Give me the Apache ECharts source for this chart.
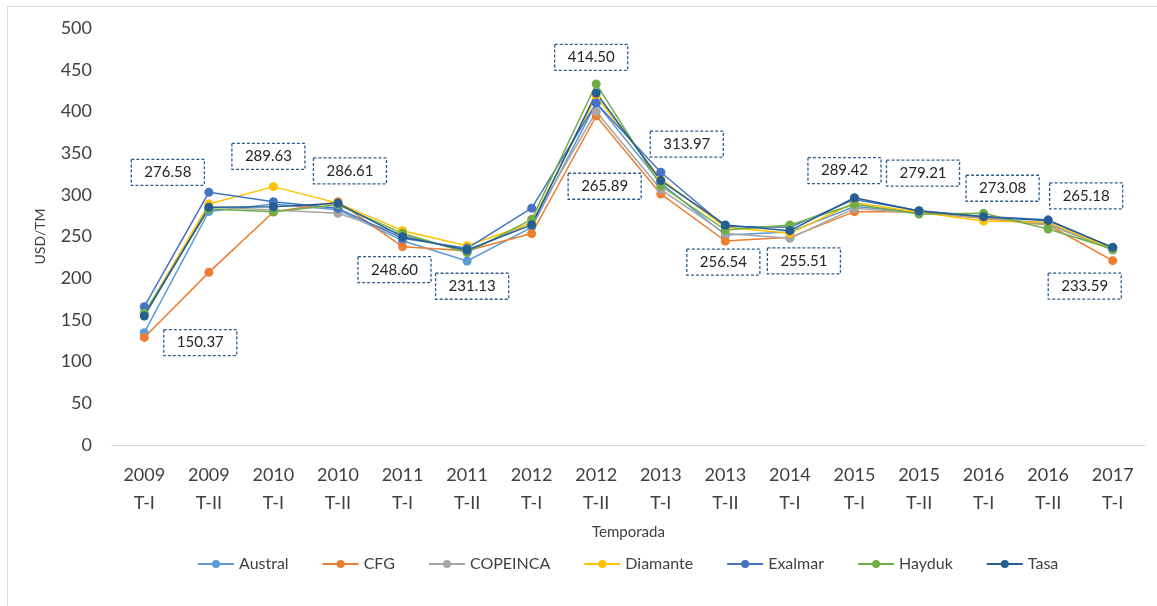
<!DOCTYPE html>
<html>
<head>
<meta charset="utf-8">
<script src="https://cdn.jsdelivr.net/npm/echarts@6/dist/echarts.min.js"></script>
<style>
  html, body { margin: 0; padding: 0; background: #fff; }
  #chart { width: 1157px; height: 606px; }
</style>
</head>
<body>
<div id="chart"></div>
<script>
// temporadas
const categories = ['2009\nT-I', '2009\nT-II', '2010\nT-I', '2010\nT-II', '2011\nT-I', '2011\nT-II', '2012\nT-I', '2012\nT-II',
  '2013\nT-I', '2013\nT-II', '2014\nT-I', '2015\nT-I', '2015\nT-II', '2016\nT-I', '2016\nT-II', '2017\nT-I']

// precios por empresa (USD/TM)
const austral = [134.7, 280, 289, 282, 245, 220.6, 261, 410, 314, 251.8, 255.5, 286, 279, 272, 266, 233.8]
const cfg = [129, 207, 279.4, 291.7, 237.8, 233, 253.5, 394.5, 301, 244.6, 249, 279.8, 280, 272, 263.8, 221]
const copeinca = [155, 285, 281.8, 277.8, 252, 232, 267, 399.7, 306.6, 253.5, 247.8, 283.8, 278, 273, 264, 234]
const diamante = [157, 289, 309.8, 290, 257, 239, 266, 418, 319, 261, 253.8, 290.5, 279, 268.6, 267, 235]
const exalmar = [165.8, 303, 291.7, 283.8, 247.8, 235.8, 284, 410, 327, 262, 261, 294.5, 281, 274, 270, 236.5]
const hayduk = [158, 283, 279.8, 288, 253.8, 230.6, 270.6, 432.9, 311, 257.8, 263.8, 288.6, 277, 277.8, 259, 235]
const tasa = [154.7, 285, 285.7, 289.8, 249.8, 233.8, 264, 422, 317, 263.8, 257, 296.5, 280.6, 273.8, 269, 237]

// promedio de cada temporada (cuadros punteados)
const promedio = [150.37, 276.58, 289.63, 286.61, 248.60, 231.13, 265.89, 414.50, 313.97, 256.54, 255.51, 289.42, 279.21, 273.08, 265.18, 233.59]

const yTicks = { min: 0, max: 500, interval: 50 }

// desplazamiento de cada cuadro respecto a su punto
const labelOffsets = [[56, 23], [-41, -42], [-5, -47], [12, -35], [-8, 32], [5, 34], [73, -37], [-5, -42],
  [26, -39], [-2, 31], [14, 29], [-10, -33], [4, -39], [19, -29], [38, -28], [-28, 36]]

const empresas = [
  { name: 'Austral', data: austral, color: '#5B9BD5' },
  { name: 'CFG', data: cfg, color: '#ED7D31' },
  { name: 'COPEINCA', data: copeinca, color: '#A5A5A5' },
  { name: 'Diamante', data: diamante, color: '#FFC000' },
  { name: 'Exalmar', data: exalmar, color: '#4472C4' },
  { name: 'Hayduk', data: hayduk, color: '#70AD47' },
  { name: 'Tasa', data: tasa, color: '#255E91' }
]

const font = 'Lato, "Open Sans", sans-serif'
const textColor = '#404040'

const series = empresas.map(e => ({
  name: e.name,
  type: 'line',
  data: e.data,
  color: e.color,
  symbol: 'circle',
  symbolSize: 9,
  lineStyle: { width: 1.5, color: e.color },
  itemStyle: { color: e.color },
  emphasis: { disabled: true },
  animation: false
}))

series.push({
  name: 'Promedio',
  type: 'line',
  z: 10,
  silent: true,
  animation: false,
  symbol: 'circle',
  symbolSize: 1,
  lineStyle: { opacity: 0 },
  itemStyle: { color: 'rgba(0,0,0,0)' },
  emphasis: { disabled: true },
  data: promedio.map((v, i) => ({ value: v, label: { offset: labelOffsets[i] } })),
  label: {
    show: true,
    position: 'inside',
    formatter: p => p.value.toFixed(2),
    color: '#262626',
    fontFamily: font,
    fontSize: 15,
    borderColor: '#2E5C8A',
    borderWidth: 1.3,
    borderType: [3, 2],
    padding: [6, 13, 5, 13]
  }
})

const option = {
  backgroundColor: '#fff',
  animation: false,
  title: {
    text: '(2009 - 2017, USD/TM)',
    left: 478,
    top: -25,
    textStyle: { fontFamily: font, fontSize: 20, fontWeight: 'bold', color: '#262626' }
  },
  graphic: [{
    type: 'rect',
    shape: { x: 7.5, y: 6.5, width: 1300, height: 700 },
    style: { fill: 'none', stroke: '#d9d9d9', lineWidth: 1 },
    silent: true
  }],
  legend: {
    data: empresas.map(e => e.name),
    top: 551,
    left: 192,
    itemWidth: 36,
    itemHeight: 10,
    itemGap: 33,
    textStyle: { fontFamily: font, fontSize: 16, color: textColor }
  },
  grid: { left: 112, right: 12, top: 28, bottom: 161 },
  xAxis: {
    type: 'category',
    data: categories,
    boundaryGap: true,
    name: 'Temporada',
    nameLocation: 'middle',
    nameGap: 80,
    nameTextStyle: { fontFamily: font, fontSize: 15, color: textColor },
    axisLine: { show: true, lineStyle: { color: '#d9d9d9', width: 1 } },
    axisTick: { show: false },
    axisLabel: { interval: 0, margin: 16, fontFamily: font, fontSize: 18, lineHeight: 28, color: textColor },
    splitLine: { show: false }
  },
  yAxis: {
    type: 'value',
    min: yTicks.min,
    max: yTicks.max,
    interval: yTicks.interval,
    name: 'USD/TM',
    nameLocation: 'middle',
    nameGap: 65,
    nameTextStyle: { fontFamily: font, fontSize: 14, color: textColor },
    axisLine: { show: false },
    axisTick: { show: false },
    splitLine: { show: false },
    axisLabel: { margin: 20, fontFamily: font, fontSize: 18, color: textColor }
  },
  series: series
}

var myChart = echarts.init(document.getElementById('chart'))
myChart.setOption(option, true)
</script>
</body>
</html>
